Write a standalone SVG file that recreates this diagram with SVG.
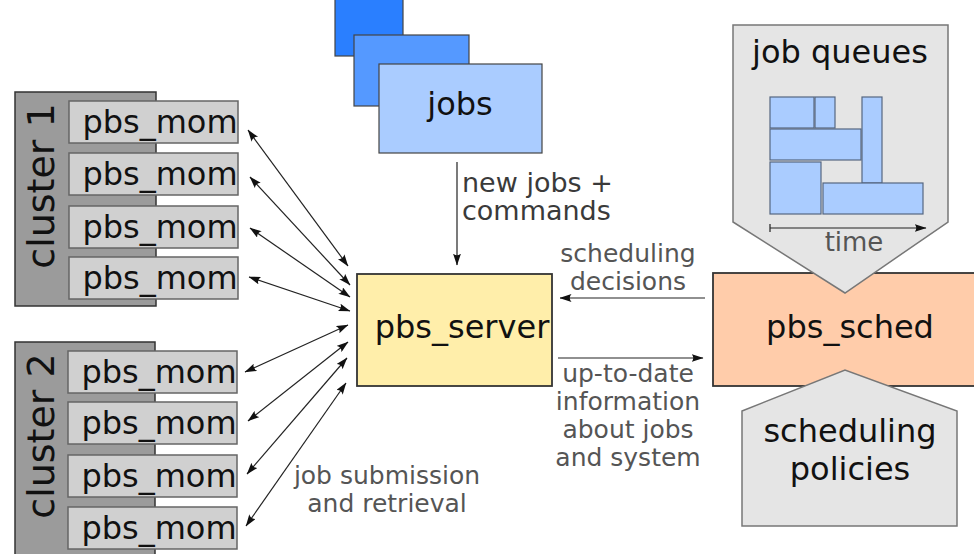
<svg xmlns="http://www.w3.org/2000/svg" width="974" height="554" viewBox="0 0 974 554">
  <defs>
    <marker id="ah" viewBox="0 0 12 8" refX="11.5" refY="4" markerWidth="12" markerHeight="8" markerUnits="userSpaceOnUse" orient="auto-start-reverse">
      <path d="M0,0 L12,4 L0,8 Q3.5,4 0,0 Z" fill="#111"/>
    </marker>
  </defs>
  <style>
    text { font-family: "DejaVu Sans", "Liberation Sans", sans-serif; }
    .big { font-size: 32px; fill: #111; text-anchor: middle; }
    .clus { font-size: 38px; fill: #111; text-anchor: middle; }
    .lbl { font-size: 25px; fill: #555; text-anchor: middle; }
    .cluster { fill: #9b9b9b; stroke: #333; stroke-width: 1.5; }
    .mom { fill: #d0d0d0; stroke: #666; stroke-width: 1.5; }
    .card { stroke: #444; stroke-width: 1.2; }
    .shield { fill: #e5e5e5; stroke: #777; stroke-width: 1.5; }
    .qjob { fill: #aaccff; stroke: #556680; stroke-width: 1.2; }
    .conn { stroke: #222; stroke-width: 1.2; fill: none; }
  </style>
  <rect width="974" height="554" fill="#ffffff"/>

  <!-- cluster 1 -->
  <g id="cluster1">
    <rect class="cluster" x="15" y="92" width="141" height="214"/>
    <text class="clus" transform="translate(54,186) rotate(-90)">cluster 1</text>
  </g>
  <g id="mom1a"><rect class="mom" x="69" y="101" width="169" height="42"/><text class="big" x="160" y="133">pbs_mom</text></g>
  <g id="mom1b"><rect class="mom" x="69" y="153" width="169" height="42"/><text class="big" x="160" y="185">pbs_mom</text></g>
  <g id="mom1c"><rect class="mom" x="69" y="206" width="169" height="42"/><text class="big" x="160" y="238">pbs_mom</text></g>
  <g id="mom1d"><rect class="mom" x="69" y="257" width="169" height="42"/><text class="big" x="160" y="289">pbs_mom</text></g>

  <!-- cluster 2 -->
  <g id="cluster2">
    <rect class="cluster" x="15" y="342" width="140" height="230"/>
    <text class="clus" transform="translate(54,436) rotate(-90)">cluster 2</text>
  </g>
  <g id="mom2a"><rect class="mom" x="68" y="351" width="169" height="42"/><text class="big" x="159" y="383">pbs_mom</text></g>
  <g id="mom2b"><rect class="mom" x="68" y="402" width="169" height="42"/><text class="big" x="159" y="434">pbs_mom</text></g>
  <g id="mom2c"><rect class="mom" x="68" y="455" width="169" height="42"/><text class="big" x="159" y="487">pbs_mom</text></g>
  <g id="mom2d"><rect class="mom" x="68" y="507" width="169" height="42"/><text class="big" x="159" y="539">pbs_mom</text></g>

  <!-- stacked job cards -->
  <g id="jobs">
    <rect class="card" x="335" y="-2" width="68" height="58" fill="#2a7fff"/>
    <rect class="card" x="354" y="35" width="115" height="71" fill="#5599ff"/>
    <rect class="card" x="379" y="64" width="163" height="89" fill="#aaccff"/>
    <text class="big" x="460" y="115">jobs</text>
  </g>

  <!-- server -->
  <g id="pbs_server">
    <rect x="357" y="274" width="195" height="112" fill="#ffeeaa" stroke="#333" stroke-width="1.8"/>
    <text class="big" x="462" y="338">pbs_server</text>
  </g>

  <!-- scheduler -->
  <g id="pbs_sched">
    <rect x="713" y="273" width="262" height="113" fill="#ffccaa" stroke="#333" stroke-width="1.8"/>
    <text class="big" x="850" y="338">pbs_sched</text>
  </g>

  <!-- job queues -->
  <g id="job_queues">
    <path class="shield" d="M733,25 L948,25 L948,222 L845,293 L733,222 Z"/>
    <text class="big" x="840" y="63">job queues</text>
    <rect class="qjob" x="770" y="97" width="44" height="31"/>
    <rect class="qjob" x="815" y="97" width="20" height="31"/>
    <rect class="qjob" x="862" y="97" width="20" height="86"/>
    <rect class="qjob" x="770" y="129" width="91" height="31"/>
    <rect class="qjob" x="770" y="162" width="51" height="52"/>
    <rect class="qjob" x="823" y="183" width="100" height="31"/>
    <path d="M770,224 L770,232 M770,228 L926,228" stroke="#222" stroke-width="1.2" fill="none" marker-end="url(#ah)"/>
    <text class="lbl" x="854" y="251" style="font-size:26px">time</text>
  </g>

  <!-- scheduling policies -->
  <g id="policies">
    <path class="shield" d="M742,411 L845,370 L957,411 L957,526 L742,526 Z"/>
    <text class="big" x="850" y="442">scheduling</text>
    <text class="big" x="850" y="480">policies</text>
  </g>

  <!-- connectors -->
  <g id="connectors">
    <line class="conn" x1="457" y1="162" x2="457" y2="265" marker-end="url(#ah)"/>
    <line class="conn" x1="705" y1="298" x2="560" y2="298" marker-end="url(#ah)"/>
    <line class="conn" x1="558" y1="358" x2="703" y2="358" marker-end="url(#ah)"/>

    <line class="conn" x1="248" y1="130" x2="348" y2="266" marker-start="url(#ah)" marker-end="url(#ah)"/>
    <line class="conn" x1="250" y1="177" x2="350" y2="285" marker-start="url(#ah)" marker-end="url(#ah)"/>
    <line class="conn" x1="250" y1="228" x2="350" y2="297" marker-start="url(#ah)" marker-end="url(#ah)"/>
    <line class="conn" x1="249" y1="277" x2="350" y2="311" marker-start="url(#ah)" marker-end="url(#ah)"/>

    <line class="conn" x1="245" y1="372" x2="348" y2="325" marker-start="url(#ah)" marker-end="url(#ah)"/>
    <line class="conn" x1="248" y1="421" x2="348" y2="342" marker-start="url(#ah)" marker-end="url(#ah)"/>
    <line class="conn" x1="247" y1="474" x2="347" y2="358" marker-start="url(#ah)" marker-end="url(#ah)"/>
    <line class="conn" x1="246" y1="526" x2="346" y2="383" marker-start="url(#ah)" marker-end="url(#ah)"/>
  </g>

  <!-- connector labels -->
  <g id="labels">
    <text class="lbl" style="text-anchor:start;fill:#3a3a3a;font-size:27px" x="462" y="192">new jobs +</text>
    <text class="lbl" style="text-anchor:start;fill:#3a3a3a;font-size:27px" x="462" y="220">commands</text>
    <text class="lbl" x="628" y="262">scheduling</text>
    <text class="lbl" x="628" y="290">decisions</text>
    <text class="lbl" x="628" y="382">up-to-date</text>
    <text class="lbl" x="628" y="410">information</text>
    <text class="lbl" x="628" y="438">about jobs</text>
    <text class="lbl" x="628" y="466">and system</text>
    <text class="lbl" x="387" y="484">job submission</text>
    <text class="lbl" x="387" y="512">and retrieval</text>
  </g>
</svg>
